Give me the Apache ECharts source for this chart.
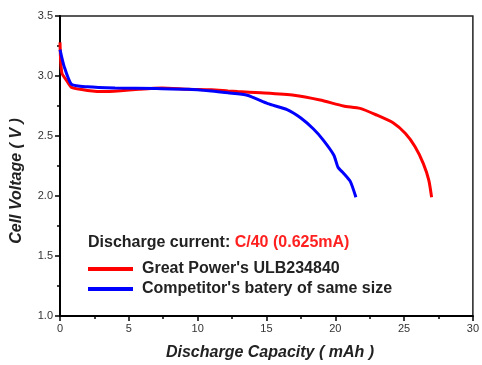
<!DOCTYPE html>
<html><head><meta charset="utf-8">
<script src="https://cdn.jsdelivr.net/npm/echarts@6/dist/echarts.min.js"></script>
<style>html,body{margin:0;padding:0;background:#fff}#c{width:482px;height:365px}</style>
</head><body><div id="c"></div>
<script>
const redName = "Great Power's ULB234840";
const blueName = "Competitor's batery of same size";
const redCapacity = [0, 0.05, 0.15, 0.5, 0.84, 2, 3.35, 5.74, 7.4, 9.3, 11, 12.2, 12.9, 14.6, 17.0, 18.9, 20.6, 21.8, 23.0, 24.2, 25.1, 25.8, 26.4, 26.8, 27.0];
const redVoltage  = [3.28, 3.12, 3.02, 2.96, 2.905, 2.88, 2.87, 2.89, 2.9, 2.89, 2.885, 2.875, 2.87, 2.86, 2.84, 2.80, 2.75, 2.73, 2.675, 2.61, 2.52, 2.41, 2.27, 2.13, 1.99];
const blueCapacity = [0, 0.3, 0.84, 2, 4, 7, 9.3, 11, 12.2, 13.6, 15.1, 16.5, 17.5, 18.4, 19.1, 19.9, 20.2, 20.6, 21.1, 21.5];
const blueVoltage  = [3.22, 3.08, 2.93, 2.91, 2.9, 2.895, 2.89, 2.875, 2.86, 2.84, 2.77, 2.72, 2.65, 2.56, 2.47, 2.34, 2.24, 2.19, 2.12, 1.99];
const xTitle = "Discharge Capacity ( mAh )";
const yTitle = "Cell Voltage ( V )";

const toPairs = (xs, ys) => xs.map((x, i) => [x, ys[i]]);
const chart = echarts.init(document.getElementById('c'), null, {renderer: 'canvas'});
const FF = 'Liberation Sans, Arial';
const lbl = {color: '#333', fontFamily: FF, fontSize: 11};
chart.setOption({
  animation: false,
  backgroundColor: '#fff',
  grid: {left: 60, right: 4, top: 16, bottom: 49, show: true, borderColor: '#222', borderWidth: 1.5},
  title: {
    left: 83, top: 230,
    text: '{a|Discharge current: }{b|C/40 (0.625mA)}',
    textStyle: {rich: {
      a: {fontFamily: FF, fontSize: 16, fontWeight: 'bold', color: '#222'},
      b: {fontFamily: FF, fontSize: 16, fontWeight: 'bold', color: '#ff2020'}
    }}
  },
  legend: {
    left: 83, top: 256, orient: 'vertical', itemGap: 4,
    itemWidth: 45, itemHeight: 4, icon: 'rect',
    textStyle: {fontFamily: FF, fontSize: 16, fontWeight: 'bold', color: '#222', padding: [0,0,0,4]},
    data: [redName, blueName]
  },
  graphic: [
    {type: 'text', x: 17, y: 181, rotation: Math.PI / 2,
     style: {text: yTitle, font: 'italic bold 16px Liberation Sans, Arial', fill: '#222', align: 'center', verticalAlign: 'middle'}},
    {type: 'text', x: 270, y: 353,
     style: {text: xTitle, font: 'italic bold 16px Liberation Sans, Arial', fill: '#222', align: 'center', verticalAlign: 'middle'}}
  ],
  xAxis: {
    type: 'value', min: 0, max: 30, interval: 5,
    axisLine: {lineStyle: {color: '#000', width: 2}},
    axisTick: {length: 5, lineStyle: {color: '#000', width: 1.5}},
    minorTick: {show: true, splitNumber: 2, length: 3, lineStyle: {color: '#000', width: 1.5}},
    axisLabel: Object.assign({margin: 7}, lbl),
    splitLine: {show: false}
  },
  yAxis: {
    type: 'value', min: 1.0, max: 3.5, interval: 0.5,
    axisLine: {lineStyle: {color: '#000', width: 2}},
    axisTick: {length: 5, lineStyle: {color: '#000', width: 1.5}},
    minorTick: {show: true, splitNumber: 2, length: 3, lineStyle: {color: '#000', width: 1.5}},
    axisLabel: Object.assign({margin: 7, formatter: v => v.toFixed(1)}, lbl),
    splitLine: {show: false}
  },
  series: [
    {name: redName, type: 'line', data: toPairs(redCapacity, redVoltage), showSymbol: false, smooth: 0.2,
     color: '#ff0000', lineStyle: {width: 3, color: '#ff0000'}},
    {name: blueName, type: 'line', data: toPairs(blueCapacity, blueVoltage), showSymbol: false, smooth: 0.2,
     color: '#0000ff', lineStyle: {width: 3, color: '#0000ff'}}
  ]
});
</script></body></html>
